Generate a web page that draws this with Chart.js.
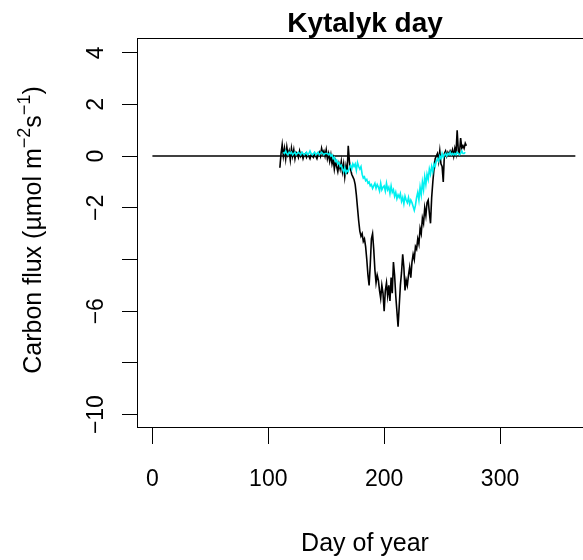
<!DOCTYPE html>
<html>
<head>
<meta charset="utf-8">
<script src="https://cdn.jsdelivr.net/npm/chart.js@4/dist/chart.umd.min.js"></script>
<style>
  body { margin: 0; background: #fff; }
</style>
</head>
<body>
<canvas id="myChartFlux" width="583" height="560"></canvas>
<script>
// Kytalyk, daily carbon flux
const chartTitle = 'Kytalyk day';
const xTitle = 'Day of year';

const xTicks = [0, 100, 200, 300];
const yTicks = [-10, -8, -6, -4, -2, 0, 2, 4];
const yTickLabels = [4, 2, 0, -2, -6, -10];

// black series, one value per day starting at day 110
const blackStartDay = 110;
const blackFlux = [
  -0.45, 0.1, 0.45, 0.0, 0.3, -0.1, 0.35, 0.05, 0.2, -0.15,
  0.3, 0.0, 0.25, -0.1, 0.15, 0.1, -0.05, 0.2, 0.0, 0.1,
  -0.1, 0.05, 0.1, -0.05, 0.05, 0.0, -0.1, 0.05, 0.0, -0.05,
  0.1, 0.0, -0.1, 0.05, 0.15, 0.0, 0.3, 0.1, 0.2, 0.0,
  0.25, -0.1, 0.1, -0.2, 0.05, -0.3, -0.1, -0.5, -0.2, -0.4,
  -0.6, -0.3, -0.5, -0.2, -0.6, -0.3, -0.8, -0.4, -0.7, 0.4,
  -0.2, -0.5, -0.7, -0.8, -0.9, -1.1, -1.5, -2.0, -2.5, -2.9,
  -3.1, -3.0, -3.3, -3.2, -3.5, -4.0, -4.6, -5.0, -4.2, -3.2,
  -3.0, -3.6, -4.4, -4.9, -4.6, -4.8, -5.2, -5.5, -5.0, -5.3,
  -6.0, -5.2, -4.9, -5.4, -5.0, -5.6, -4.7, -5.3, -4.1, -4.6,
  -5.4, -6.0, -6.6, -5.8, -5.0, -4.5, -3.8, -4.3, -5.2, -4.8,
  -5.0, -4.6, -4.3, -4.7, -4.1, -3.8, -4.0, -3.5, -3.6, -3.2,
  -3.4, -2.8, -3.0, -2.4, -2.6, -2.0, -2.3, -1.8, -1.7, -2.2,
  -2.6, -1.6, -1.0, -0.5, -0.1, 0.0, 0.1, -0.2, 0.2, -0.3,
  -0.4, -1.0, 0.1, 0.2, 0.0, 0.15, 0.05, 0.2, 0.1, 0.25,
  0.0, 0.3, 0.1, 1.0, 0.2, 0.1, 0.7, 0.3, 0.4, 0.3,
  0.5, 0.4
];

// cyan series, one value per day starting at day 113
const cyanStartDay = 113;
const cyanFlux = [
  0.15, 0.1, 0.2, 0.1, 0.05, 0.15, 0.1, 0.15, 0.05, 0.1,
  0.15, 0.05, 0.1, 0.15, 0.1, 0.05, 0.15, 0.1, 0.05, 0.1,
  0.15, 0.05, 0.1, 0.2, 0.1, 0.05, 0.1, 0.15, 0.05, 0.1,
  0.15, 0.05, 0.1, 0.15, 0.1, 0.05, 0.1, 0.1,
  0.1, 0.05, 0.1, 0.0, 0.05, -0.1, -0.05, -0.2, -0.15, -0.3,
  -0.25, -0.4, -0.35, -0.5, -0.6, -0.45, -0.65, -0.55, -0.6, -0.45,
  -0.35, -0.5, -0.3, -0.4, -0.3, -0.55, -0.25, -0.4, -0.5, -0.4,
  -0.7, -0.85, -0.8, -0.95, -0.9, -1.05, -1.0, -1.15, -1.1, -1.25,
  -1.15, -1.05, -1.25, -1.1, -1.2, -1.35, -1.05, -1.3, -1.2, -1.15,
  -1.35, -1.05, -1.3, -1.2, -1.45, -1.15, -1.4, -1.3, -1.55, -1.4,
  -1.65, -1.5, -1.6, -1.45, -1.75, -1.6, -1.85, -1.55, -1.7, -1.8,
  -1.6, -1.85, -1.7, -1.8, -1.95,
  -2.1, -1.9, -1.6, -1.4, -1.7, -1.2, -1.5, -1.0, -1.3, -0.8,
  -1.1, -0.7, -0.9, -0.5, -0.7, -0.4, -0.6, -0.3, -0.4, -0.2,
  -0.1, -0.2, 0.0, -0.1, 0.1,
  -0.05, 0.05, 0.1, 0.0, 0.1, 0.05, 0.15, 0.05, 0.1, 0.05,
  0.1, 0.05, 0.15, 0.1, 0.05, 0.1, 0.2, 0.1, 0.1, 0.15
];

// horizontal reference line at zero
const zeroDays = [0, 365];
const zeroFlux = [0, 0];

const FONT = '"Liberation Sans", Arial, sans-serif';

function toPoints(start, values){
  let pts = [];
  for(let i = 0; i < values.length; i++){
    pts.push({x: start + i, y: values[i]});
  }
  return pts;
}

function minus(v){
  return String(v).replace('-', '\u2212');
}

const rStyle = {
  id: 'rStyle',
  afterDraw(chart){
    const ctx = chart.ctx;
    const a = chart.chartArea;
    const xs = chart.scales.x;
    const ys = chart.scales.y;
    ctx.save();
    ctx.strokeStyle = '#000';
    ctx.lineWidth = 1;
    ctx.strokeRect(a.left + 0.5, a.top + 0.5, a.right - a.left + 20, a.bottom - a.top);

    ctx.fillStyle = '#000';
    // x tick labels
    ctx.font = '23px ' + FONT;
    ctx.textAlign = 'center';
    ctx.textBaseline = 'alphabetic';
    xTicks.forEach(v => {
      ctx.fillText(minus(v), xs.getPixelForValue(v), 486);
    });
    // y tick labels, rotated like R
    yTickLabels.forEach(v => {
      ctx.save();
      ctx.translate(103, ys.getPixelForValue(v));
      ctx.rotate(-Math.PI / 2);
      ctx.fillText(minus(v), 0, 0);
      ctx.restore();
    });

    // x title
    ctx.font = '25px ' + FONT;
    ctx.fillText(xTitle, 365, 551);

    // y title with superscripts
    const parts = [
      {t: 'Carbon flux (\u00b5mol m', sup: false},
      {t: '\u22122', sup: true},
      {t: 's', sup: false},
      {t: '\u22121', sup: true},
      {t: ')', sup: false}
    ];
    const big = '25px ' + FONT, small = '18px ' + FONT;
    let total = 0;
    parts.forEach(p => { ctx.font = p.sup ? small : big; p.w = ctx.measureText(p.t).width; total += p.w; });
    ctx.save();
    ctx.translate(41, 230);
    ctx.rotate(-Math.PI / 2);
    ctx.textAlign = 'left';
    let cx = -total / 2;
    parts.forEach(p => {
      ctx.font = p.sup ? small : big;
      ctx.fillText(p.t, cx, p.sup ? -11 : 0);
      cx += p.w;
    });
    ctx.restore();

    // main title
    ctx.font = 'bold 28px ' + FONT;
    ctx.textAlign = 'center';
    ctx.fillText(chartTitle, 365, 32);
    ctx.restore();
  }
};

chartIt();

function chartIt(){
  let ctx = document.getElementById('myChartFlux').getContext('2d');
  let myChart = new Chart(ctx, {
    type: 'line',
    data: {
      datasets: [{
          label: 'cyan',
          data: toPoints(cyanStartDay, cyanFlux),
          borderColor: '#00f0f0',
          borderWidth: 1.6,
          pointRadius: 0,
          tension: 0
        }, {
          label: 'black',
          data: toPoints(blackStartDay, blackFlux),
          borderColor: '#000',
          borderWidth: 1.6,
          pointRadius: 0,
          tension: 0
        }, {
          label: 'zero',
          data: zeroDays.map((d, i) => ({x: d, y: zeroFlux[i]})),
          borderColor: '#000',
          borderWidth: 1.5,
          pointRadius: 0,
          tension: 0
        }]
    },
    options: {
      responsive: false,
      animation: false,
      layout: { padding: { top: 38, left: 0, right: 0, bottom: 0 } },
      plugins: { legend: { display: false }, tooltip: { enabled: false } },
      scales: {
        x: {
          type: 'linear',
          min: -13.3,
          max: 371.6,
          afterBuildTicks: s => { s.ticks = xTicks.map(v => ({value: v})); },
          afterFit: s => { s.height = 133; },
          ticks: { display: false },
          grid: { drawOnChartArea: false, drawTicks: true, tickLength: 17, color: '#000' },
          border: { display: true, color: '#000' }
        },
        y: {
          type: 'linear',
          min: -10.48,
          max: 4.57,
          afterBuildTicks: s => { s.ticks = yTicks.map(v => ({value: v})); },
          afterFit: s => { s.width = 137; },
          ticks: { display: false },
          grid: { drawOnChartArea: false, drawTicks: true, tickLength: 15, color: '#000' },
          border: { display: true, color: '#000' }
        }
      }
    },
    plugins: [rStyle]
  });
}
</script>
</body>
</html>
